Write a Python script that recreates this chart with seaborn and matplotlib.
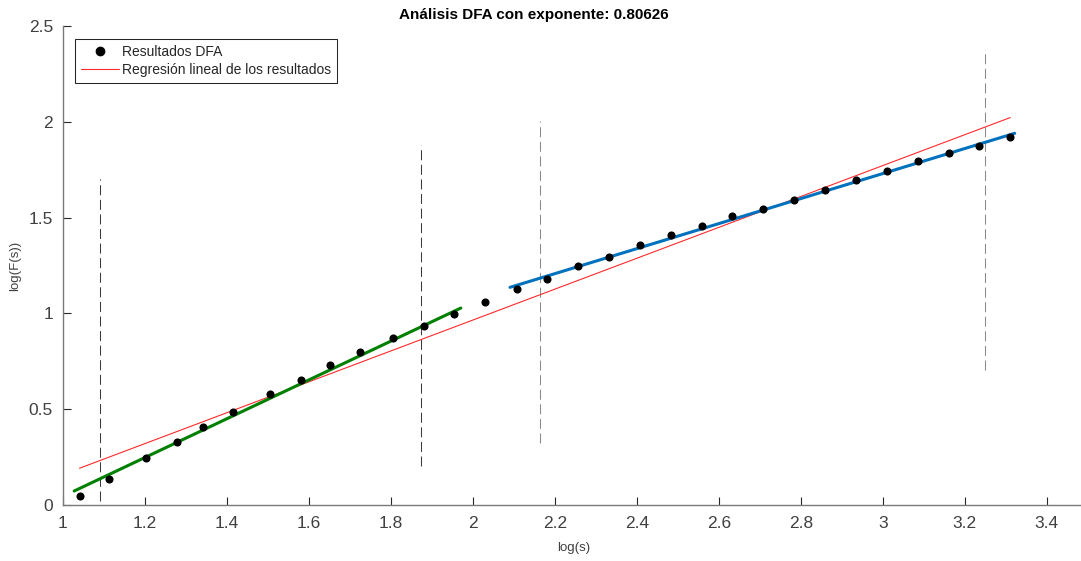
import numpy as np
import pandas as pd
import matplotlib
matplotlib.use("Agg")
import matplotlib.pyplot as plt
import seaborn as sns
from matplotlib.lines import Line2D

# ---------------- data ----------------
log_s = [1.041, 1.114, 1.204, 1.279, 1.342, 1.415, 1.505, 1.580, 1.653, 1.724,
         1.806, 1.881, 1.954, 2.029, 2.107, 2.182, 2.258, 2.332, 2.408, 2.483,
         2.559, 2.633, 2.709, 2.784, 2.860, 2.935, 3.010, 3.085, 3.161, 3.236,
         3.311]
log_F = [0.047, 0.137, 0.245, 0.330, 0.406, 0.484, 0.581, 0.652, 0.729, 0.797,
         0.870, 0.936, 0.998, 1.061, 1.126, 1.181, 1.247, 1.296, 1.355, 1.409,
         1.456, 1.508, 1.547, 1.592, 1.642, 1.695, 1.745, 1.795, 1.836, 1.872,
         1.919]

exponent = 0.80626
intercept = -0.6475

green_x = [1.028, 1.971]
green_y = [0.073, 1.028]
blue_x = [2.091, 3.322]
blue_y = [1.136, 1.940]

vline_x = [1.091, 1.874, 2.165, 3.250]
vline_ymin = [0.020, 0.205, 0.324, 0.705]
vline_ymax = [1.700, 1.880, 2.004, 2.380]
vline_colors = ["#3a3a3a", "#3a3a3a", "#8a8a8a", "#8a8a8a"]

x_ticks = [1.0, 1.2, 1.4, 1.6, 1.8, 2.0, 2.2, 2.4, 2.6, 2.8, 3.0, 3.2, 3.4]
x_ticklabels = ["1", "1.2", "1.4", "1.6", "1.8", "2", "2.2", "2.4", "2.6", "2.8", "3", "3.2", "3.4"]
y_ticks = [0, 0.5, 1.0, 1.5, 2.0, 2.5]
y_ticklabels = ["0", "0.5", "1", "1.5", "2", "2.5"]

title_text = "Análisis DFA con exponente: 0.80626"
legend_labels = ["Resultados DFA", "Regresión lineal de los resultados"]

# ---------------- styling ----------------
sns.set_style("white")
plt.rcParams["font.family"] = ["Liberation Sans", "DejaVu Sans"]

W, H = 1081, 561
fig = plt.figure(figsize=(W / 100, H / 100), dpi=100)
ax_left, ax_right, ax_top, ax_bottom = 62.7, 1087.7, 26.0, 505.0
ax = fig.add_axes([ax_left / W, 1 - ax_bottom / H, (ax_right - ax_left) / W, (ax_bottom - ax_top) / H])

df = pd.DataFrame({"log_s": log_s, "log_F": log_F})
df_red = pd.DataFrame({"x": [log_s[0], log_s[-1]]})
df_red["y"] = intercept + exponent * df_red["x"]

# regression line
sns.lineplot(data=df_red, x="x", y="y", ax=ax, color="#ff2a2a", lw=0.8, zorder=2)
# segment fits
sns.lineplot(x=green_x, y=green_y, ax=ax, color="#008000", lw=2.2, zorder=3)
sns.lineplot(x=blue_x, y=blue_y, ax=ax, color="#0072BD", lw=2.2, zorder=3)
# points
sns.scatterplot(data=df, x="log_s", y="log_F", ax=ax, color="black", s=34,
                edgecolor="black", linewidth=0, zorder=4)
# dashed vertical lines
for xv, y0, y1, c in zip(vline_x, vline_ymin, vline_ymax, vline_colors):
    ax.plot([xv, xv], [y0, y1], color=c, lw=0.75, linestyle=(0, (9.6, 4.4)), zorder=1)

ax.set_xlim(1.0, 3.5)
ax.set_ylim(0, 2.5)
ax.set_xticks(x_ticks)
ax.set_xticklabels(x_ticklabels)
ax.set_yticks(y_ticks)
ax.set_yticklabels(y_ticklabels)

for side in ["top", "right"]:
    ax.spines[side].set_visible(False)
for side in ["left", "bottom"]:
    ax.spines[side].set_color("#7a7a7a")
    ax.spines[side].set_linewidth(1.0)

ax.tick_params(axis="both", which="major", bottom=True, left=True, top=False, right=False,
               direction="in", length=5.5, width=0.8, color="#262626",
               labelsize=12.5, labelcolor="#404040")
ax.tick_params(axis="x", pad=8)
ax.tick_params(axis="y", pad=7)

ax.set_xlabel("")
ax.set_ylabel("")
fig.text(574 / W, 1 - 548 / H, "log(s)", ha="center", va="center", fontsize=9.5, color="#404040")
fig.text(15 / W, 1 - 266 / H, "log(F(s))", ha="center", va="center", rotation=90,
         fontsize=9.5, color="#404040")
fig.text(534 / W, 1 - 15 / H, title_text, ha="center", va="center", fontsize=11,
         fontweight="bold", color="black")

handles = [
    Line2D([], [], linestyle="none", marker="o", color="black", markersize=6),
    Line2D([], [], color="#ff2a2a", lw=0.8),
]
leg = ax.legend(handles, legend_labels, loc="upper left",
                bbox_to_anchor=(75 / W, 1 - 39.3 / H), bbox_transform=fig.transFigure,
                borderaxespad=0, frameon=True, fancybox=False, fontsize=10,
                handlelength=2.74, handletextpad=0.27, labelspacing=0.3, borderpad=0.4)
leg.get_frame().set_edgecolor("#262626")
leg.get_frame().set_linewidth(0.75)
leg.get_frame().set_alpha(1)

fig.savefig("out.png", dpi=100)
